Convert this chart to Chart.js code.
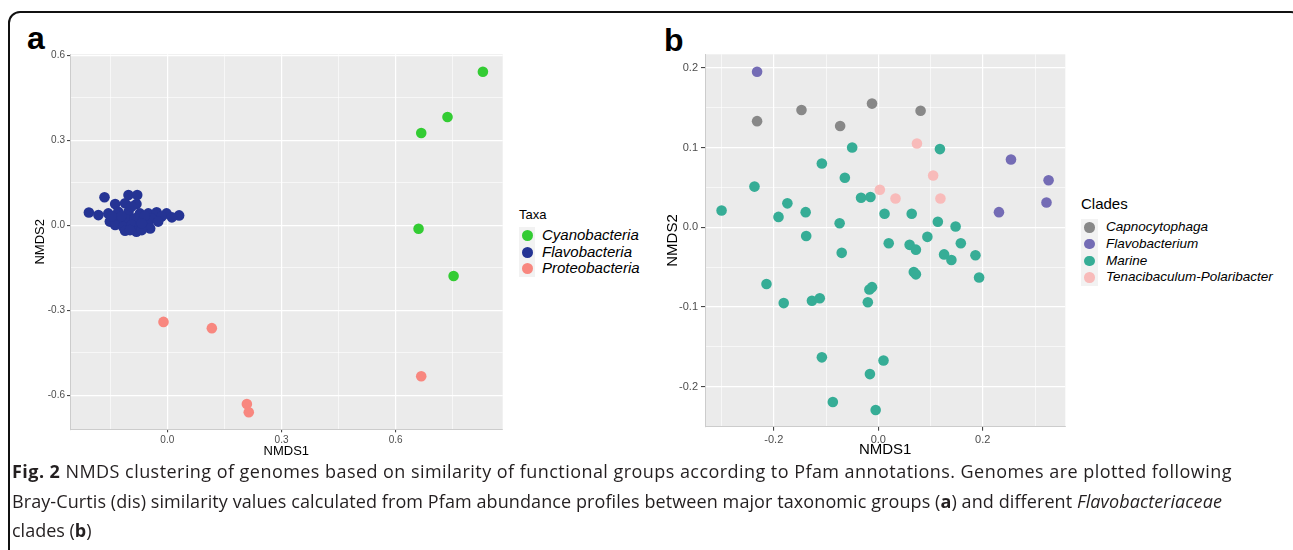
<!DOCTYPE html>
<html>
<head>
<meta charset="utf-8">
<script src="https://cdn.jsdelivr.net/npm/chart.js@4"></script>
<style>
  body { margin: 0; width: 1293px; height: 550px; overflow: hidden; background: #fff; position: relative;
         font-family: "Liberation Sans", Arial, sans-serif; }
  #frame { position: absolute; left: 8px; top: 11px; width: 1295px; height: 620px; box-sizing: border-box;
           border: 2px solid #111; border-radius: 12px; }
  .plabel { position: absolute; font-size: 32px; line-height: 32px; font-weight: bold; color: #000; }
  .box { position: absolute; }
  .legend { position: absolute; color: #000; }
  .legend .title { position: absolute; white-space: nowrap; }
  .legend .key { position: absolute; background: #F2F2F2; }
  .legend .dot { position: absolute; border-radius: 50%; }
  .legend .txt { position: absolute; font-style: italic; white-space: nowrap; }
  #caption { position: absolute; left: 12px; top: 457px; font-family: "Open Sans", sans-serif; font-size: 18px;
             line-height: 29.5px; color: #231F20; white-space: nowrap; }
  #caption span { display: inline-block; }
</style>
</head>
<body>
<div id="frame"></div>
<div class="plabel" style="left:27px; top:22px;">a</div>
<div class="plabel" style="left:664px; top:24px;">b</div>

<div class="box" style="left:0px; top:40px; width:515px; height:425px;"><canvas id="chartA" width="515" height="425"></canvas></div>
<div class="box" style="left:640px; top:40px; width:440px; height:425px;"><canvas id="chartB" width="440" height="425"></canvas></div>

<div class="legend" id="legendA"></div>
<div class="legend" id="legendB"></div>

<div id="caption">
<span data-w="1220"><b>Fig. 2</b> NMDS clustering of genomes based on similarity of functional groups according to Pfam annotations. Genomes are plotted following</span><br>
<span data-w="1210">Bray-Curtis (dis) similarity values calculated from Pfam abundance profiles between major taxonomic groups (<b>a</b>) and different <i>Flavobacteriaceae</i></span><br>
<span>clades (<b>b</b>)</span>
</div>

<script>
// панель a: таксоны
const taxaNames = ['Cyanobacteria', 'Flavobacteria', 'Proteobacteria'];
const taxaColors = ['#33CC33', '#253494', '#F8877F'];

const cyanoX = [0.829, 0.736, 0.667, 0.660, 0.752];
const cyanoY = [0.542, 0.382, 0.326, -0.012, -0.179];

const flavoX = [-0.165, -0.102, -0.079, -0.081, -0.137, -0.111, -0.206, -0.181, -0.155, -0.129,
                -0.102, -0.072, -0.050, -0.028, -0.002, 0.031, -0.151, -0.129, -0.107, -0.085,
                -0.063, -0.041, -0.015, 0.012, -0.137, -0.116, -0.094, -0.072, -0.050, -0.111,
                -0.081, -0.045, -0.120, -0.059, -0.098, -0.067, -0.146, -0.024, -0.094, -0.067];
const flavoY = [0.099, 0.107, 0.107, 0.075, 0.075, 0.078, 0.045, 0.036, 0.042, 0.048,
                0.048, 0.042, 0.042, 0.046, 0.042, 0.035, 0.013, 0.019, 0.021, 0.025,
                0.019, 0.025, 0.031, 0.028, 0.001, -0.005, 0.001, -0.005, 0.001, -0.019,
                -0.023, -0.011, 0.033, 0.033, -0.017, -0.017, 0.031, 0.013, 0.066, 0.007];

const proteoX = [0.667, -0.010, 0.117, 0.209, 0.214];
const proteoY = [-0.533, -0.341, -0.363, -0.631, -0.660];

const ticksA_x = [0.0, 0.3, 0.6];
const ticksA_y = [-0.6, -0.3, 0.0, 0.3, 0.6];

// панель b: клады
const cladeNames = ['Capnocytophaga', 'Flavobacterium', 'Marine', 'Tenacibaculum-Polaribacter'];
const cladeColors = ['#888888', '#746CB5', '#36AD96', '#F8BBBA'];

const capnoX = [-0.232, -0.147, -0.073, -0.012, 0.081];
const capnoY = [0.133, 0.147, 0.127, 0.155, 0.146];

const flavbX = [-0.232, 0.254, 0.326, 0.322, 0.231];
const flavbY = [0.195, 0.085, 0.059, 0.031, 0.019];

const marineX = [0.118, -0.050, -0.108, -0.064, -0.237, -0.033, -0.015, -0.300, -0.174, -0.191,
                 -0.139, -0.074, 0.012, 0.064, 0.114, 0.148, -0.138, -0.070, 0.020, 0.060,
                 0.072, 0.094, 0.158, 0.126, 0.140, 0.068, 0.072, -0.214, -0.181, -0.127,
                 -0.112, -0.017, -0.012, -0.020, -0.108, 0.010, -0.016, -0.087, -0.005, 0.186, 0.193];
const marineY = [0.098, 0.100, 0.080, 0.062, 0.051, 0.037, 0.038, 0.021, 0.030, 0.013,
                 0.019, 0.005, 0.017, 0.017, 0.007, 0.001, -0.011, -0.032, -0.020, -0.022,
                 -0.028, -0.012, -0.020, -0.034, -0.041, -0.056, -0.059, -0.071, -0.095, -0.092,
                 -0.089, -0.078, -0.075, -0.094, -0.163, -0.167, -0.184, -0.219, -0.229, -0.035, -0.063];

const tenaX = [0.074, 0.105, 0.003, 0.033, 0.119];
const tenaY = [0.105, 0.065, 0.047, 0.036, 0.036];

const ticksB_x = [-0.2, 0.0, 0.2];
const ticksB_y = [-0.2, -0.1, 0.0, 0.1, 0.2];

Chart.defaults.font.family = '"Liberation Sans", Arial, sans-serif';

function pts(xs, ys) {
  return xs.map((x, i) => ({ x: x, y: ys[i] }));
}

function isMajor(v, list) {
  return list.some(t => Math.abs(t - v) < 1e-6);
}

// серый фон панели, как в ggplot
const panelBg = {
  id: 'panelBg',
  beforeDraw(chart) {
    const { ctx, chartArea: a } = chart;
    ctx.save();
    ctx.fillStyle = '#EBEBEB';
    ctx.fillRect(a.left, a.top, a.right - a.left, a.bottom - a.top);
    ctx.restore();
  }
};

function axis(o) {
  return {
    type: 'linear',
    min: o.min, max: o.max,
    title: { display: true, text: o.title, color: '#000', font: { size: o.titleSize }, padding: 0 },
    ticks: {
      stepSize: o.step,
      includeBounds: false,
      autoSkip: false,
      maxRotation: 0,
      padding: o.tickPad,
      color: '#4D4D4D',
      font: { size: o.tickSize },
      callback: v => isMajor(v, o.major) ? v.toFixed(1) : ''
    },
    grid: {
      color: '#FFFFFF',
      lineWidth: c => isMajor(c.tick.value, o.major) ? 1.2 : 0.6,
      tickColor: c => isMajor(c.tick.value, o.major) ? '#333333' : 'rgba(0,0,0,0)',
      tickLength: o.tickLen,
      tickWidth: 1
    },
    border: { display: true, color: '#CCCCCC', width: 1 },
    afterFit: s => { if (o.w) s.width = o.w; if (o.h) s.height = o.h; }
  };
}

function makeChart(id, datasets, padding, xo, yo) {
  return new Chart(document.getElementById(id), {
    type: 'scatter',
    data: { datasets: datasets },
    options: {
      responsive: false,
      animation: false,
      events: [],
      layout: { padding: padding },
      plugins: { legend: { display: false }, tooltip: { enabled: false } },
      elements: { point: { radius: 5.3, borderWidth: 0 } },
      scales: { x: axis(xo), y: axis(yo) }
    },
    plugins: [panelBg]
  });
}

function ds(label, data, color) {
  return { label: label, data: data, backgroundColor: color, borderColor: color, pointRadius: 5.3 };
}

makeChart('chartA', [
  ds(taxaNames[0], pts(cyanoX, cyanoY), taxaColors[0]),
  ds(taxaNames[1], pts(flavoX, flavoY), taxaColors[1]),
  ds(taxaNames[2], pts(proteoX, proteoY), taxaColors[2])
], { left: 33, top: 14.3, right: 12.3, bottom: 5.7 },
  { min: -0.2556, max: 0.881, step: 0.15, major: ticksA_x, title: 'NMDS1', titleSize: 13, tickSize: 10, tickPad: 2, tickLen: 3, h: 30 },
  { min: -0.72, max: 0.6035, step: 0.15, major: ticksA_y, title: 'NMDS2', titleSize: 13, tickSize: 10, tickPad: 2, tickLen: 3, w: 37 });

makeChart('chartB', [
  ds(cladeNames[0], pts(capnoX, capnoY), cladeColors[0]),
  ds(cladeNames[1], pts(flavbX, flavbY), cladeColors[1]),
  ds(cladeNames[2], pts(marineX, marineY), cladeColors[2]),
  ds(cladeNames[3], pts(tenaX, tenaY), cladeColors[3])
], { left: 24, top: 14.3, right: 14.7, bottom: 6.3 },
  { min: -0.3317, max: 0.358, step: 0.1, major: ticksB_x, title: 'NMDS1', titleSize: 15, tickSize: 11, tickPad: 3, tickLen: 4, h: 32 },
  { min: -0.2499, max: 0.2168, step: 0.05, major: ticksB_y, title: 'NMDS2', titleSize: 15, tickSize: 11, tickPad: 3, tickLen: 4, w: 41 });

// легенды
function buildLegend(id, o) {
  const el = document.getElementById(id);
  el.style.left = o.left + 'px';
  el.style.top = o.top + 'px';
  let html = '<div class="title" style="left:0; top:0; font-size:' + o.titleSize + 'px; line-height:' + o.titleH + 'px;">' + o.title + '</div>';
  o.names.forEach((n, i) => {
    const y = o.titleH + o.gap + i * o.keyH;
    html += '<div class="key" style="left:0; top:' + y + 'px; width:' + o.keyW + 'px; height:' + o.keyH + 'px;"></div>';
    html += '<div class="dot" style="left:' + (o.keyW / 2 - o.dot / 2) + 'px; top:' + (y + o.keyH / 2 - o.dot / 2) +
            'px; width:' + o.dot + 'px; height:' + o.dot + 'px; background:' + o.colors[i] + ';"></div>';
    html += '<div class="txt" style="left:' + o.textX + 'px; top:' + y + 'px; font-size:' + o.textSize +
            'px; line-height:' + o.keyH + 'px;">' + n + '</div>';
  });
  el.innerHTML = html;
}

buildLegend('legendA', { left: 519, top: 206, title: 'Taxa', titleSize: 13, titleH: 18, gap: 3, names: taxaNames, colors: taxaColors,
  keyW: 16, keyH: 16.7, dot: 11, textX: 23, textSize: 15 });
buildLegend('legendB', { left: 1081, top: 194, title: 'Clades', titleSize: 15, titleH: 20, gap: 5, names: cladeNames, colors: cladeColors,
  keyW: 17, keyH: 16.75, dot: 10.5, textX: 25, textSize: 13.5 });

// подгонка ширины строк подписи
document.querySelectorAll('#caption span[data-w]').forEach(sp => {
  const target = +sp.dataset.w;
  const n = sp.textContent.length;
  const w = sp.getBoundingClientRect().width;
  sp.style.letterSpacing = ((target - w) / n) + 'px';
});
</script>
</body>
</html>
